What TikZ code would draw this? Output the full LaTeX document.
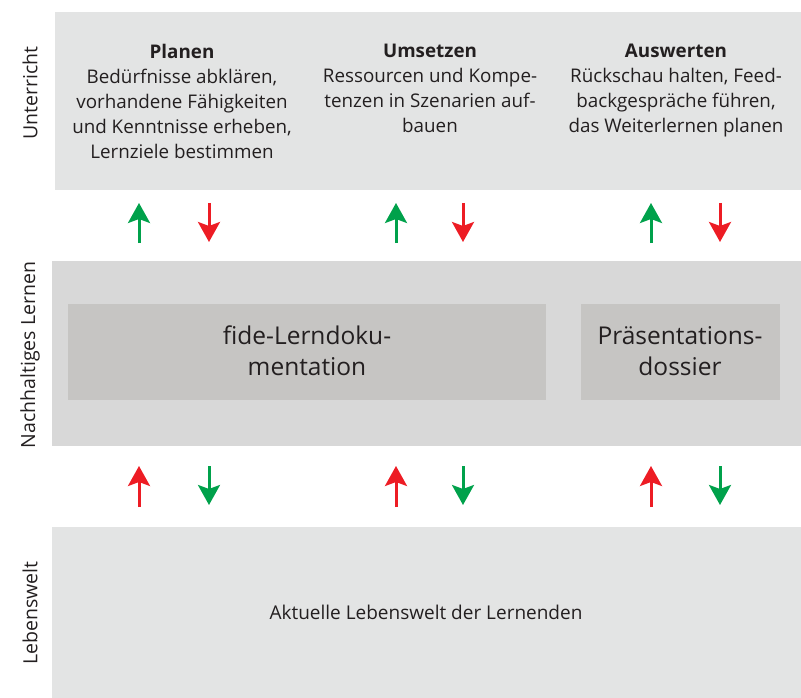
\documentclass[tikz,border=0pt]{standalone}
\usepackage{fontspec}
\setmainfont{Open Sans}
\usetikzlibrary{arrows.meta}
\definecolor{bgA}{HTML}{E3E4E4}
\definecolor{bgB}{HTML}{D8D8D8}
\definecolor{inner}{HTML}{C6C5C3}
\definecolor{txt}{HTML}{231F20}
\definecolor{agreen}{HTML}{00A14B}
\definecolor{ared}{HTML}{ED1C24}
\tikzset{
  band/.style={rectangle, inner sep=0pt, outer sep=0pt, anchor=north west},
  colhead/.style={align=center, font=\fontsize{18.8}{25}\selectfont, text=txt, inner sep=0pt, anchor=north},
  biglbl/.style={align=center, font=\fontsize{24.5}{31}\selectfont, text=txt, inner sep=0pt},
  sidelbl/.style={rotate=90, font=\fontsize{19.5}{20}\selectfont, text=txt, inner sep=0pt},
  arr/.style={line width=3pt, -{Stealth[length=20pt,width=22pt,inset=4pt]}},
}
\begin{document}
\begin{tikzpicture}[x=1pt,y=-1pt]
\useasboundingbox (0,0) rectangle (801,698);
% bands
\node[band, fill=bgA, minimum width=746pt, minimum height=178pt] (unt) at (55,12) {};
\node[band, fill=bgB, minimum width=749pt, minimum height=185pt] (nach) at (52,261) {};
\node[band, fill=bgA, minimum width=749pt, minimum height=171pt] (leb) at (52,527) {};
\node[band, fill=inner, minimum width=478pt, minimum height=96pt] (fide) at (68,304) {};
\node[band, fill=inner, minimum width=199pt, minimum height=96pt] (praes) at (581,304) {};
% side labels
\node[sidelbl] (l1) at (30,93) {Unterricht};
\node[sidelbl] (l2) at (30,355) {Nachhaltiges Lernen};
\node[sidelbl] (l3) at (30,613) {Lebenswelt};
% column texts
\node[colhead] (c1) at (182,44) {\textbf{Planen}\\Bedürfnisse abklären,\\vorhandene Fähigkeiten\\und Kenntnisse erheben,\\Lernziele bestimmen};
\node[colhead] (c2) at (430,44) {\textbf{Umsetzen}\\Ressourcen und Kompe-\\tenzen in Szenarien auf-\\bauen};
\node[colhead] (c3) at (676,44) {\textbf{Auswerten}\\Rückschau halten, Feed-\\backgespräche führen,\\das Weiterlernen planen};
% inner labels
\node[biglbl] (t1) at (307,351) {fide-Lerndoku-\\mentation};
\node[biglbl] (t2) at (680,351) {Präsentations-\\dossier};
\node[align=center, font=\fontsize{19}{20}\selectfont, text=txt, inner sep=0pt] (t3) at (426,612) {Aktuelle Lebenswelt der Lernenden};
% arrows
\foreach \i/\a/\b in {1/139/209, 2/396/463, 3/651/720} {
  \coordinate (ua\i) at (\a,243); \coordinate (ub\i) at (\a,203);
  \coordinate (da\i) at (\b,203); \coordinate (db\i) at (\b,242);
  \coordinate (la\i) at (\a,507); \coordinate (lb\i) at (\a,466);
  \coordinate (ma\i) at (\b,466); \coordinate (mb\i) at (\b,505);
  \draw[arr, agreen] (ua\i) -- (ub\i);
  \draw[arr, ared] (da\i) -- (db\i);
  \draw[arr, ared] (la\i) -- (lb\i);
  \draw[arr, agreen] (ma\i) -- (mb\i);
}
\end{tikzpicture}
\end{document}
